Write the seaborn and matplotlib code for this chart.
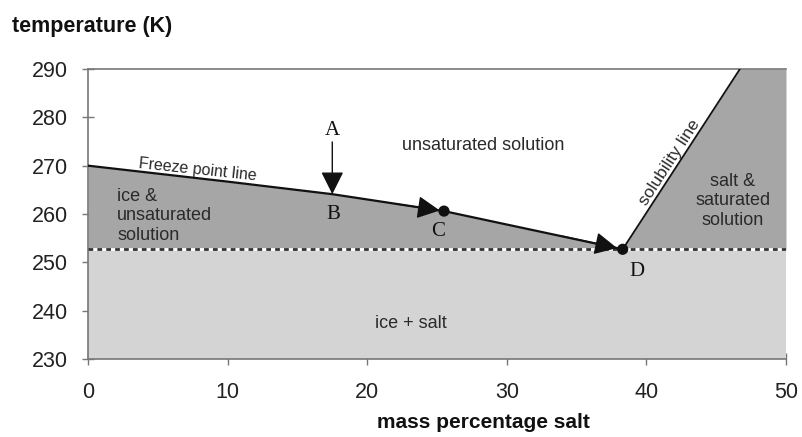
import matplotlib
matplotlib.use("Agg")
import matplotlib.pyplot as plt
import seaborn as sns

# ---- data ----
freeze_x = [0, 10, 17.5, 25.5, 38.3]
freeze_y = [270, 266.7, 264.1, 260.6, 252.7]
solubility_x = [38.3, 46.7]
solubility_y = [252.7, 290]
eutectic_T = 252.7
x_limits = [0, 50]
y_limits = [230, 290]
x_ticks = [0, 10, 20, 30, 40, 50]
y_ticks = [230, 240, 250, 260, 270, 280, 290]
point_labels = ["A", "B", "C", "D"]
point_x = [17.5, 17.5, 25.5, 38.3]
point_y = [277.2, 264.1, 260.6, 252.7]
label_pos_x = [17.5, 17.6, 25.1, 39.3]
label_pos_y = [277.2, 259.8, 256.4, 248.2]
arrow_tail_x = [17.5, 22.0, 34.0]
arrow_tail_y = [274.9, 262.1, 255.4]
arrow_tip_x = [17.5, 25.2, 37.9]
arrow_tip_y = [264.1, 260.73, 252.95]

sns.set_theme(style="white")
plt.rcParams["font.family"] = ["Liberation Sans", "DejaVu Sans"]

DARK = "#a6a6a6"
LIGHT = "#d4d4d4"
TXT = "#2a2a2a"
SPINE = "#777777"

fig = plt.figure(figsize=(8.02, 4.37), dpi=100)
ax = fig.add_axes([88 / 802, 1 - 359 / 437, 698 / 802, 290 / 437])

# regions
ax.fill_between(x_limits, y_limits[0], eutectic_T, color=LIGHT, lw=0, zorder=1)
ax.fill_between(freeze_x, eutectic_T, freeze_y, color=DARK, lw=0, zorder=1)
ax.fill_betweenx(solubility_y, solubility_x, x_limits[1], color=DARK, lw=0, zorder=1)

# dotted eutectic line
ax.plot(x_limits, [eutectic_T, eutectic_T], color="white", lw=2.0, zorder=2)
ax.plot(x_limits, [eutectic_T, eutectic_T], color="#333333", lw=2.0,
        dashes=(1.7, 1.5), zorder=3)

# phase lines
sns.lineplot(x=freeze_x, y=freeze_y, ax=ax, color="#111111", lw=1.6, sort=False, zorder=4)
sns.lineplot(x=solubility_x, y=solubility_y, ax=ax, color="#111111", lw=1.3, sort=False, zorder=4)

# points C and D
sns.scatterplot(x=point_x[2:], y=point_y[2:], ax=ax, color="#111111", s=65,
                edgecolor="none", zorder=6)

# arrows
for i in range(3):
    ax.annotate("", xy=(arrow_tip_x[i], arrow_tip_y[i]),
                xytext=(arrow_tail_x[i], arrow_tail_y[i]),
                arrowprops=dict(arrowstyle="-|>,head_length=1.0,head_width=0.5",
                                color="#111111", lw=1.0, shrinkA=0, shrinkB=0,
                                mutation_scale=14),
                zorder=5)

# point labels (serif)
for lab, lx, ly in zip(point_labels, label_pos_x, label_pos_y):
    ax.text(lx, ly, lab, family=["Liberation Serif", "DejaVu Serif"], fontsize=15,
            ha="center", va="center", color="#111111", zorder=7)

# region labels
ax.text(28.3, 274.1, "unsaturated solution", fontsize=13, color=TXT, ha="center", va="center")
ax.text(2.1, 259.6, "ice &\nunsaturated\nsolution", fontsize=13, color=TXT,
        ha="left", va="center", linespacing=1.2)
ax.text(46.2, 262.7, "salt &\nsaturated\nsolution", fontsize=13, color=TXT,
        ha="center", va="center", multialignment="center", linespacing=1.2)
ax.text(23.1, 237.4, "ice + salt", fontsize=13, color=TXT, ha="center", va="center")
ax.text(7.85, 269.1, "Freeze point line", fontsize=11.5, color=TXT,
        ha="center", va="center", rotation=-6)
ax.text(41.7, 270.7, "solubility line", fontsize=12.5, color=TXT,
        ha="center", va="center", rotation=57)

# axes styling
ax.set_xlim(x_limits)
ax.set_ylim(y_limits)
ax.set_xticks(x_ticks)
ax.set_yticks(y_ticks)
ax.set_xticklabels([str(t) for t in x_ticks])
ax.set_yticklabels([str(t) for t in y_ticks])
ax.tick_params(axis="both", direction="inout", length=9, width=1, color=SPINE,
               labelsize=15.5, labelcolor="#222222")
ax.tick_params(axis="y", pad=10, left=True)
ax.tick_params(axis="x", pad=12, bottom=True)
for side in ["left", "bottom", "top"]:
    ax.spines[side].set_color(SPINE)
    ax.spines[side].set_linewidth(1.2)
ax.spines["right"].set_visible(False)

ax.set_xlabel("mass percentage salt", fontsize=15, fontweight="bold", color="#111111")
ax.xaxis.set_label_coords(0.567, -0.185)
ax.set_ylabel("temperature (K)", fontsize=15.5, fontweight="bold", color="#111111",
              rotation=0, ha="left", va="baseline")
ax.yaxis.set_label_coords(-0.1089, 1.1276)

fig.savefig("out.png", dpi=100)
